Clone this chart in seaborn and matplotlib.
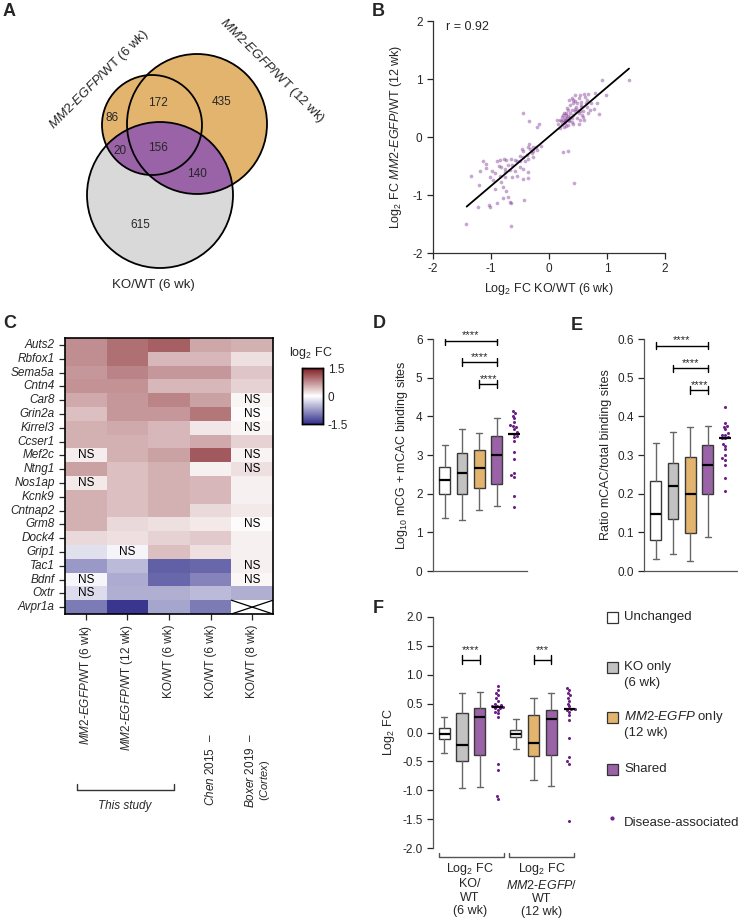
import matplotlib
matplotlib.use("Agg")
import matplotlib.pyplot as plt
import matplotlib.patches as mpatches
from matplotlib.colors import LinearSegmentedColormap
import numpy as np
import pandas as pd
import seaborn as sns

W, H = 738, 922

sns.set_style("ticks")
plt.rcParams["font.family"] = ["Liberation Sans", "DejaVu Sans"]
plt.rcParams.update({
    "mathtext.fontset": "custom",
    "mathtext.rm": "Liberation Sans",
    "mathtext.it": "Liberation Sans:italic",
    "mathtext.bf": "Liberation Sans:bold",
    "axes.unicode_minus": False,
    "font.size": 8.5,
    "axes.linewidth": 0.9,
    "axes.edgecolor": "#333333",
    "xtick.major.width": 0.9,
    "ytick.major.width": 0.9,
    "xtick.major.size": 4,
    "ytick.major.size": 4,
    "xtick.labelsize": 8.5,
    "ytick.labelsize": 8.5,
    "axes.labelsize": 8.5,
})

ORANGE = "#E3B46E"
PURPLE = "#9A63A8"
GREY = "#C2C2C2"
VENN_GREY = "#D9D9D9"
DOT = "#6E1F87"
MM2 = r"$\mathit{MM2}$-$\mathit{EGFP}$"

# ── A: Venn counts ────────────────────────────────────────────────────────
venn_regions = ["6wk only", "6wk & 12wk", "12wk only", "6wk & KO", "all three", "12wk & KO", "KO only"]
venn_counts = [86, 172, 435, 20, 156, 140, 615]

# ── B: scatter of log2 FC ─────────────────────────────────────────────────
ko_fc = [
    0.92, 1.38, 0.98, 0.79, 0.68, 0.60, 0.53, 0.45, 0.35, 0.42, 0.51, 0.56, 0.65, 0.73, 0.82,
    0.78, 0.87, 0.68, 0.59, 0.53, 0.45, 0.37, 0.30, 0.26, 0.22, 0.19, 0.25, 0.30, 0.36, 0.42,
    0.48, 0.53, 0.60, 0.52, 0.42, 0.33, 0.26, 0.19, 0.14, 0.16, 0.39, 0.48, 0.56, 0.65, 0.71,
    0.42, 0.33, 0.27, 0.23, 0.39, 0.29, 0.51, 0.59, 0.62, 0.39, 0.24, 0.28, 0.31, 0.34, 0.27,
    0.32, 0.36, 0.44, 0.47, 0.40, 0.35, 0.21, 0.29, 0.45, 0.55, 0.63, 0.50, 0.31, 0.24, 0.57,
    -0.44, -0.35, -0.18, -0.21, 0.24, 0.32, 0.43,
    -0.13, -0.21, -0.27, -0.33, -0.37, -0.44, -0.47, -0.30, -0.38, -0.44, -0.36, -0.50, -0.55,
    -0.59, -0.63, -0.66, -0.70, -0.74, -0.78, -0.84, -0.90, -0.87, -0.82, -0.76, -0.67, -0.59,
    -0.50, -0.44, -0.37, -0.37, -0.45, -0.56, -0.64, -0.76, -0.84, -0.93, -0.99, -1.01, -1.09,
    -1.14, -1.09, -1.19, -1.35, -0.96, -0.82, -0.79, -0.74, -0.93, -1.20, -0.80, -0.70, -0.68,
    -0.66, -0.43, -0.89, -1.03, -1.01, -1.22, -1.43, -0.66, -0.41, -0.50, -0.27, -0.28, -0.22,
    -0.34, -0.76,
]
mm2_fc = [
    0.98, 0.98, 0.72, 0.76, 0.74, 0.74, 0.72, 0.72, 0.64, 0.63, 0.67, 0.61, 0.64, 0.59, 0.58,
    0.48, 0.40, 0.42, 0.35, 0.44, 0.49, 0.55, 0.41, 0.42, 0.35, 0.29, 0.26, 0.29, 0.35, 0.38,
    0.32, 0.29, 0.30, 0.23, 0.23, 0.20, 0.17, 0.16, 0.29, 0.23, 0.46, 0.58, 0.52, 0.52, 0.47,
    0.58, 0.46, 0.32, 0.22, 0.26, 0.38, 0.41, 0.44, 0.69, 0.68, 0.30, 0.27, 0.33, 0.27, 0.24,
    0.37, 0.42, 0.44, 0.52, 0.33, 0.30, 0.27, 0.19, 0.62, 0.56, 0.58, 0.47, 0.50, 0.38, 0.38,
    0.42, 0.28, 0.22, 0.17, -0.26, -0.25, -0.80,
    -0.16, -0.22, -0.18, -0.21, -0.18, -0.24, -0.20, -0.28, -0.31, -0.35, -0.38, -0.33, -0.42,
    -0.40, -0.48, -0.38, -0.48, -0.39, -0.38, -0.40, -0.42, -0.50, -0.51, -0.56, -0.57, -0.59,
    -0.51, -0.56, -0.60, -0.70, -0.72, -0.67, -0.69, -0.69, -0.67, -0.62, -0.59, -0.69, -0.53,
    -0.42, -0.47, -0.58, -0.67, -0.74, -0.77, -0.87, -0.93, -0.90, -0.83, -1.06, -1.04, -1.12,
    -1.14, -1.08, -1.14, -1.17, -1.20, -1.20, -1.50, -1.54, -0.42, -0.42, -0.35, -0.25, -0.18,
    -0.12, -0.61,
]
fit_x = [-1.42, 1.38]
fit_y = [-1.20, 1.18]
r_value = 0.92

# ── C: heatmap of log2 FC ─────────────────────────────────────────────────
heat_genes = ["Auts2", "Rbfox1", "Sema5a", "Cntn4", "Car8", "Grin2a", "Kirrel3", "Ccser1",
              "Mef2c", "Ntng1", "Nos1ap", "Kcnk9", "Cntnap2", "Grm8", "Dock4", "Grip1",
              "Tac1", "Bdnf", "Oxtr", "Avpr1a"]
heat_cols = ["MM2 6wk", "MM2 12wk", "KO 6wk", "Chen 2015", "Boxer 2019"]
heat_vals = [
    [0.74, 0.94, 1.05, 0.58, 0.52],
    [0.74, 0.94, 0.47, 0.47, 0.20],
    [0.68, 0.82, 0.68, 0.68, 0.38],
    [0.72, 0.72, 0.47, 0.47, 0.30],
    [0.57, 0.68, 0.80, 0.62, 0.06],
    [0.42, 0.68, 0.68, 0.90, 0.03],
    [0.52, 0.57, 0.47, 0.16, 0.06],
    [0.52, 0.52, 0.47, 0.57, 0.30],
    [0.12, 0.52, 0.62, 1.10, 0.08],
    [0.62, 0.42, 0.52, 0.10, 0.20],
    [0.15, 0.42, 0.52, 0.47, 0.10],
    [0.52, 0.42, 0.52, 0.47, 0.10],
    [0.52, 0.42, 0.52, 0.25, 0.15],
    [0.52, 0.25, 0.20, 0.15, 0.03],
    [0.25, 0.20, 0.30, 0.35, 0.10],
    [-0.22, -0.08, 0.42, 0.20, 0.10],
    [-0.75, -0.50, -1.15, -1.10, 0.10],
    [-0.06, -0.60, -1.10, -0.90, 0.05],
    [-0.25, -0.58, -0.58, -0.50, -0.58],
    [-0.95, -1.45, -0.65, -0.95, np.nan],
]
heat_ns = [
    [0, 0, 0, 0, 0], [0, 0, 0, 0, 0], [0, 0, 0, 0, 0], [0, 0, 0, 0, 0],
    [0, 0, 0, 0, 1], [0, 0, 0, 0, 1], [0, 0, 0, 0, 1], [0, 0, 0, 0, 0],
    [1, 0, 0, 0, 1], [0, 0, 0, 0, 1], [1, 0, 0, 0, 0], [0, 0, 0, 0, 0],
    [0, 0, 0, 0, 0], [0, 0, 0, 0, 1], [0, 0, 0, 0, 0], [0, 1, 0, 0, 0],
    [0, 0, 0, 0, 1], [1, 0, 0, 0, 1], [1, 0, 0, 0, 0], [0, 0, 0, 0, 0],
]

# ── D: log10 binding sites (whislo, q1, med, q3, whishi) ─────────────────
d_low = [1.37, 1.33, 1.57, 1.67]
d_q1 = [2.00, 2.00, 2.15, 2.25]
d_med = [2.36, 2.54, 2.66, 3.00]
d_q3 = [2.70, 3.06, 3.12, 3.48]
d_high = [3.26, 3.67, 3.58, 3.96]
d_disease = [4.15, 4.08, 4.02, 3.95, 3.85, 3.78, 3.75, 3.72, 3.66, 3.59, 3.55,
             3.50, 3.47, 3.37, 3.09, 2.90, 2.53, 2.48, 2.44, 1.94, 1.66]

# ── E: ratio mCAC / total ────────────────────────────────────────────────
e_low = [0.030, 0.045, 0.025, 0.088]
e_q1 = [0.080, 0.135, 0.097, 0.200]
e_med = [0.148, 0.220, 0.200, 0.275]
e_q3 = [0.233, 0.280, 0.295, 0.326]
e_high = [0.330, 0.360, 0.373, 0.375]
e_disease = [0.423, 0.382, 0.375, 0.373, 0.366, 0.356, 0.353, 0.353, 0.347, 0.345,
             0.343, 0.328, 0.323, 0.315, 0.300, 0.291, 0.287, 0.274, 0.240, 0.208]

# ── F: log2 FC per group (unchanged, KO only / MM2 only, shared) ─────────
f_low = [-0.36, -0.95, -0.94, -0.29, -0.82, -0.92]
f_q1 = [-0.11, -0.49, -0.39, -0.07, -0.40, -0.38]
f_med = [-0.02, -0.22, 0.26, -0.02, -0.18, 0.23]
f_q3 = [0.07, 0.33, 0.43, 0.05, 0.30, 0.39]
f_high = [0.26, 0.68, 0.70, 0.23, 0.59, 0.68]
f_disease_ko = [0.80, 0.73, 0.68, 0.64, 0.59, 0.55, 0.50, 0.48, 0.46, 0.45, 0.44,
                0.43, 0.42, 0.39, 0.36, 0.33, 0.27, -0.55, -0.65, -1.10, -1.15]
f_disease_mm2 = [0.77, 0.73, 0.68, 0.64, 0.60, 0.55, 0.50, 0.45, 0.41, 0.40, 0.39,
                 0.36, 0.30, 0.22, -0.10, -0.42, -0.50, -0.54, -1.52]

fig = plt.figure(figsize=(W / 100, H / 100), dpi=100)


def px_axes(x0, y0, x1, y1):
    return fig.add_axes([x0 / W, 1 - y1 / H, (x1 - x0) / W, (y1 - y0) / H])


def draw_boxes(ax, positions, lows, q1s, meds, q3s, highs, colors):
    stats = [dict(whislo=l, q1=a, med=m, q3=b, whishi=h, fliers=[])
             for l, a, m, b, h in zip(lows, q1s, meds, q3s, highs)]
    bp = ax.bxp(stats, positions=positions, widths=0.62, capwidths=0.34,
                patch_artist=True, showfliers=False,
                boxprops=dict(edgecolor="#3a3a3a", linewidth=1.0),
                whiskerprops=dict(color="#666666", linewidth=1.0),
                capprops=dict(color="#666666", linewidth=1.0),
                medianprops=dict(color="black", linewidth=1.6))
    for patch, c in zip(bp["boxes"], colors):
        patch.set_facecolor(c)


def draw_dots(ax, pos, vals):
    sns.swarmplot(x=np.full(len(vals), float(pos)), y=vals, native_scale=True,
                  orient="x", ax=ax, size=2.2, color=DOT, linewidth=0)
    ax.hlines(np.median(vals), pos - 0.32, pos + 0.32, color="black", lw=1.6, zorder=5)


def sig_bracket(ax, x0, x1, y, cap, label, off_pt):
    ax.plot([x0, x1], [y, y], color="black", lw=1.0)
    ax.plot([x0, x0], [y - cap, y + cap], color="black", lw=1.0)
    ax.plot([x1, x1], [y - cap, y + cap], color="black", lw=1.0)
    ax.annotate(label, xy=((x0 + x1) / 2, y), xytext=(0, off_pt),
                textcoords="offset points", ha="center", va="baseline", fontsize=8)


def style_box_axes(ax):
    sns.despine(ax=ax)
    for side in ["left", "bottom"]:
        ax.spines[side].set_color("#555555")
    ax.set_xticks([])


# ── B ─────────────────────────────────────────────────────────────────────
ax_b = px_axes(433, 21, 665, 253)
sns.scatterplot(x=ko_fc, y=mm2_fc, ax=ax_b, s=7, color="#7B2D8E", alpha=0.42, linewidth=0)
ax_b.plot(fit_x, fit_y, color="black", lw=1.3)
ax_b.set_xlim(-2, 2)
ax_b.set_ylim(-2, 2)
ax_b.set_xticks([-2, -1, 0, 1, 2])
ax_b.set_yticks([-2, -1, 0, 1, 2])
ax_b.text(-1.78, 1.89, f"r = {r_value}", va="center", fontsize=9)
ax_b.set_xlabel(r"Log$_2$ FC KO/WT (6 wk)", fontsize=9)
ax_b.set_ylabel(r"Log$_2$ FC " + MM2 + "/WT (12 wk)", fontsize=9, labelpad=6)
sns.despine(ax=ax_b)

# ── C ─────────────────────────────────────────────────────────────────────
ax_c = px_axes(65, 338, 273, 614)
cax = px_axes(302, 368, 323, 424)
heat_df = pd.DataFrame(heat_vals, index=heat_genes, columns=heat_cols)
annot = np.where(np.array(heat_ns) == 1, "NS", "")
cmap = LinearSegmentedColormap.from_list("fc", ["#33308C", "#FFFFFF", "#801C22"])
sns.heatmap(heat_df, ax=ax_c, cmap=cmap, vmin=-1.5, vmax=1.5, cbar_ax=cax,
            annot=annot, fmt="", annot_kws={"fontsize": 8.5, "color": "black"},
            mask=heat_df.isna(), cbar_kws={"ticks": [-1.5, 0, 1.5]})
for sp in ax_c.spines.values():
    sp.set_visible(True)
    sp.set_linewidth(1.2)
    sp.set_color("black")
ax_c.plot([4, 5], [19, 20], color="black", lw=0.9)
ax_c.plot([4, 5], [20, 19], color="black", lw=0.9)
ax_c.set_yticklabels(heat_genes, rotation=0, fontstyle="italic")
ax_c.set_xticklabels([MM2 + "/WT (6 wk)", MM2 + "/WT (12 wk)", "KO/WT (6 wk)",
                      "KO/WT (6 wk)", "KO/WT (8 wk)"], rotation=90)
ax_c.tick_params(length=4, width=0.9)
cax.set_yticklabels(["-1.5", "0", "1.5"])
cax.tick_params(length=3, width=0.8, direction="in", left=True, right=True)
for sp in cax.spines.values():
    sp.set_visible(True)
    sp.set_color("black")
    sp.set_linewidth(1.0)

# ── D ─────────────────────────────────────────────────────────────────────
ax_d = px_axes(433, 339, 527, 571)
draw_boxes(ax_d, [1, 2, 3, 4], d_low, d_q1, d_med, d_q3, d_high, ["white", GREY, ORANGE, PURPLE])
draw_dots(ax_d, 5, d_disease)
ax_d.set_xlim(0.32, 5.75)
ax_d.set_ylim(0, 6)
ax_d.set_yticks(range(7))
ax_d.set_ylabel(r"Log$_{10}$ mCG + mCAC binding sites", fontsize=9)
sig_bracket(ax_d, 1, 4, 5.95, 0.1, "****", 1.8)
sig_bracket(ax_d, 2, 4, 5.40, 0.1, "****", 1.8)
sig_bracket(ax_d, 3, 4, 4.83, 0.1, "****", 1.8)
style_box_axes(ax_d)

# ── E ─────────────────────────────────────────────────────────────────────
ax_e = px_axes(644, 339, 738, 571)
draw_boxes(ax_e, [1, 2, 3, 4], e_low, e_q1, e_med, e_q3, e_high, ["white", GREY, ORANGE, PURPLE])
draw_dots(ax_e, 5, e_disease)
ax_e.set_xlim(0.32, 5.75)
ax_e.set_ylim(0, 0.6)
ax_e.set_yticks(np.arange(0, 0.61, 0.1))
ax_e.set_yticklabels([f"{v:.1f}" for v in np.arange(0, 0.61, 0.1)])
ax_e.set_ylabel("Ratio mCAC/total binding sites", fontsize=9)
sig_bracket(ax_e, 1, 4, 0.583, 0.01, "****", 1.6)
sig_bracket(ax_e, 2, 4, 0.524, 0.01, "****", 1.6)
sig_bracket(ax_e, 3, 4, 0.468, 0.01, "****", 1.6)
style_box_axes(ax_e)

# ── F ─────────────────────────────────────────────────────────────────────
ax_f = px_axes(433, 616.7, 580, 848.3)
draw_boxes(ax_f, [1, 2, 3, 5, 6, 7], f_low, f_q1, f_med, f_q3, f_high,
           ["white", GREY, PURPLE, "white", ORANGE, PURPLE])
draw_dots(ax_f, 4, f_disease_ko)
draw_dots(ax_f, 8, f_disease_mm2)
ax_f.set_xlim(0.38, 8.6)
ax_f.set_ylim(-2, 2)
f_ticks = np.arange(-2, 2.01, 0.5)
ax_f.set_yticks(f_ticks)
ax_f.set_yticklabels([f"{v:.1f}" for v in f_ticks])
ax_f.set_ylabel(r"Log$_2$ FC", fontsize=9)
sig_bracket(ax_f, 2, 3, 1.26, 0.07, "****", 4.5)
sig_bracket(ax_f, 6, 7, 1.26, 0.07, "***", 4.5)
style_box_axes(ax_f)
ax_f.spines["bottom"].set_visible(False)

# ── overlay in pixel coordinates: Venn, letters, legend, brackets ────────
ov = fig.add_axes([0, 0, 1, 1])
ov.set_xlim(0, W)
ov.set_ylim(H, 0)
ov.axis("off")

c6 = ((152, 125), 50)
c12 = ((197, 124), 70)
cko = ((160, 195), 73)
ov.add_patch(mpatches.Circle(*cko, facecolor=VENN_GREY, edgecolor="none"))
ov.add_patch(mpatches.Circle(*c12, facecolor=ORANGE, edgecolor="none"))
ov.add_patch(mpatches.Circle(*c6, facecolor=ORANGE, edgecolor="none"))
for clip_c in (c6, c12):
    p = mpatches.Circle(*cko, facecolor=PURPLE, edgecolor="none")
    ov.add_patch(p)
    p.set_clip_path(mpatches.Circle(*clip_c, transform=ov.transData))
for c in (c6, c12, cko):
    ov.add_patch(mpatches.Circle(*c, facecolor="none", edgecolor="black", lw=1.3))
venn_pos = [(112, 118), (158, 103), (222, 102), (120, 151), (158, 148), (197, 174), (140, 225)]
for (x, y), n in zip(venn_pos, venn_counts):
    ov.text(x, y, str(n), ha="center", va="center", fontsize=8.5)
ov.text(99, 80, MM2 + "/WT (6 wk)", rotation=45, ha="center", va="center", fontsize=9.5)
ov.text(272, 71, MM2 + "/WT (12 wk)", rotation=-45, ha="center", va="center", fontsize=9.5)
ov.text(153, 285, "KO/WT (6 wk)", ha="center", va="center", fontsize=9.5)

# heatmap extra labels
ov.text(289, 353, r"log$_2$ FC", ha="left", va="center", fontsize=9)
ov.text(211, 733, r"$\mathit{Chen\ 2015}$  –", rotation=90, ha="center", va="top")
ov.text(251, 733, r"$\mathit{Boxer\ 2019}$  –", rotation=90, ha="center", va="top")
ov.text(265, 801, r"$\mathit{(Cortex)}$", rotation=90, ha="center", va="bottom", fontsize=8)
ov.plot([77, 77, 174, 174], [784, 790, 790, 784], color="#333333", lw=1.0)
ov.text(125, 806, "This study", ha="center", va="center", fontstyle="italic")

# F group brackets and labels
for x0, x1 in [(439, 504), (509, 574)]:
    ov.plot([x0, x0, x1, x1], [852.7, 856.7, 856.7, 852.7], color="#555555", lw=1.0)
ov.text(470, 861, "Log$_2$ FC\nKO/\nWT\n(6 wk)", ha="center", va="top",
        fontsize=9, linespacing=1.15)
ov.text(541.7, 861, "Log$_2$ FC\n" + MM2 + "/\nWT\n(12 wk)", ha="center", va="top",
        fontsize=9, linespacing=1.15)

# F legend
legend_items = [("Unchanged", "white", 617, None), ("KO only", GREY, 667, "(6 wk)"),
                (MM2 + " only", ORANGE, 717, "(12 wk)"), ("Shared", PURPLE, 769, None)]
for label, color, y, sub in legend_items:
    ov.add_patch(mpatches.Rectangle((607, y - 5.5), 11, 11, facecolor=color,
                                    edgecolor="#333333", lw=0.9))
    ov.text(624, y, label, ha="left", va="center", fontsize=9.5)
    if sub:
        ov.text(624, y + 16, sub, ha="left", va="center", fontsize=9.5)
ov.plot([612], [818], "o", ms=2, color=DOT)
ov.text(624, 823, "Disease-associated", ha="left", va="center", fontsize=9.5)

# panel letters
for letter, x, y in [("A", 3, 3), ("B", 372, 3), ("C", 3, 315), ("D", 373, 315),
                     ("E", 571, 317), ("F", 373, 600)]:
    ov.text(x, y, letter, ha="left", va="top", fontsize=13, fontweight="bold")

fig.savefig("out.png", dpi=100)
